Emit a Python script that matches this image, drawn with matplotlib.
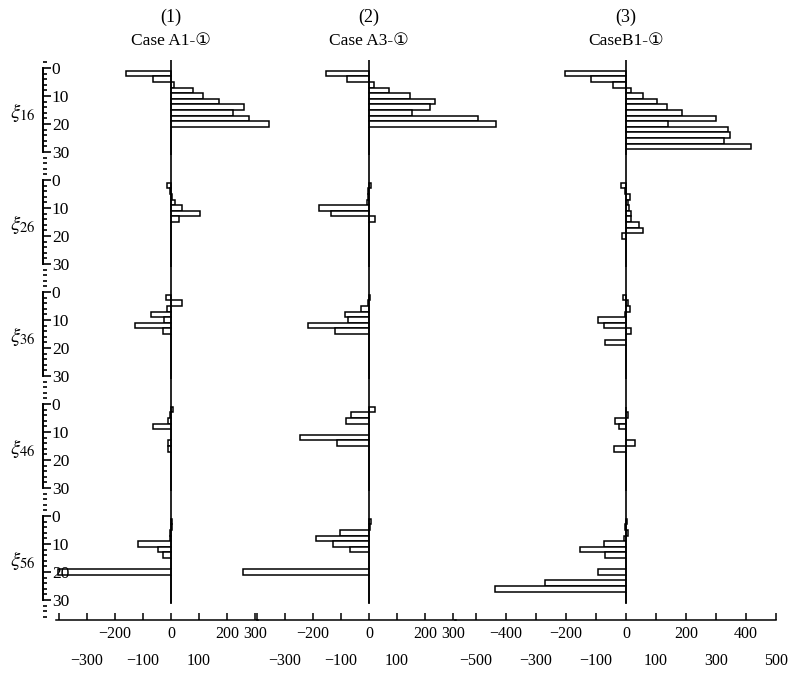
import matplotlib
matplotlib.use('Agg')
import matplotlib.pyplot as plt
from matplotlib.ticker import MultipleLocator
from matplotlib.transforms import blended_transform_factory

plt.rcParams['mathtext.fontset'] = 'stix'
SERIF = ['Liberation Serif', 'DejaVu Sans', 'Noto Sans CJK JP']

# --- data ---
xi_pos = [2, 4, 6, 8, 10, 12, 14, 16, 18, 20, 22, 24, 26, 28, 30]
xi_names = ['16', '26', '36', '46', '56']
panel_nums = ['(1)', '(2)', '(3)']
case_names = ['Case A1-①', 'Case A3-①', 'CaseB1-①']

a1_xi16 = [-160, -64, 10, 80, 115, 170, 260, 220, 280, 350, 0, 0, 0, 0, 0]
a1_xi26 = [-15, -4, 3, 15, 38, 105, 28, 0, 0, 0, 0, 0, 0, 0, 0]
a1_xi36 = [-18, 39, -15, -71, -24, -127, -27, 0, 0, 0, 0, 0, 0, 0, 0]
a1_xi46 = [6, -2, -12, -65, 0, 0, -12, -12, 0, 0, 0, 0, 0, 0, 0]
a1_xi56 = [4, 2, -3, -5, -118, -46, -30, 0, 0, -403, 0, 0, 0, 0, 0]

a3_xi16 = [-153, -77, 18, 71, 147, 236, 218, 154, 390, 455, 0, 0, 0, 0, 0]
a3_xi26 = [8, -3, -4, -6, -180, -137, 20, 0, 0, 0, 0, 0, 0, 0, 0]
a3_xi36 = [4, -5, -30, -87, -75, -217, -121, 0, 0, 0, 0, 0, 0, 0, 0]
a3_xi46 = [20, -63, -81, 0, 0, -246, -113, 0, 0, 0, 0, 0, 0, 0, 0]
a3_xi56 = [8, 3, -104, -190, -130, -68, 0, 0, 0, -450, 0, 0, 0, 0, 0]

b1_xi16 = [-205, -118, -42, 15, 58, 103, 136, 186, 300, 140, 340, 345, 328, 415, 0]
b1_xi26 = [-18, -4, 14, 8, 10, 18, 18, 42, 55, -13, 0, 0, 0, 0, 0]
b1_xi36 = [-9, 5, 13, -5, -92, -72, 15, 0, -70, 0, 0, 0, 0, 0, 0]
b1_xi46 = [0, 5, -37, -23, 0, 0, 30, -40, 0, 0, 0, 0, 0, 0, 0]
b1_xi56 = [3, -5, 5, -8, -75, -152, -70, 0, 0, -95, 0, -270, -437, 0, 0]

columns = [
    [a1_xi16, a1_xi26, a1_xi36, a1_xi46, a1_xi56],
    [a3_xi16, a3_xi26, a3_xi36, a3_xi46, a3_xi56],
    [b1_xi16, b1_xi26, b1_xi36, b1_xi46, b1_xi56],
]

top_labels = [[-200, 0, 200, 300], [-200, 0, 200, 300], [-400, -200, 0, 200, 400]]
low_labels = [[-300, -100, 100], [-300, -100, 100], [-500, -300, -100, 100, 300, 500]]

# --- layout (pixels) ---
W, H = 788, 676
col_zero = [171, 369, 626]
col_scale = [0.28, 0.28, 0.30]
col_xlim = [(-410, 310), (-400, 310), (-570, 500)]
row_zero = [68, 180, 292, 404, 516]
PPU = 2.8  # pixels per xi unit


def rect(left, top, w, h):
    return [left / W, 1 - (top + h) / H, w / W, h / H]


def fmt(v):
    return str(v).replace('-', '\u2212')


fig = plt.figure(figsize=(W / 100, H / 100), dpi=100)

for c in range(3):
    x0, x1 = col_xlim[c]
    left = col_zero[c] + x0 * col_scale[c]
    width = (x1 - x0) * col_scale[c]

    fig.text(col_zero[c] / W, 1 - 17 / H, panel_nums[c], ha='center', va='center',
             fontsize=13, family=SERIF)
    fig.text(col_zero[c] / W, 1 - 41 / H, case_names[c], ha='center', va='center',
             fontsize=12.5, family=SERIF)

    for r in range(5):
        top = row_zero[r] - 3 * PPU
        ax = fig.add_axes(rect(left, top, width, 40 * PPU))
        ax.barh(xi_pos, columns[c][r], height=2, color='white',
                edgecolor='black', linewidth=1.1, clip_on=False)
        end = 31.5 if r == 4 else 37
        ax.vlines(0, -3, end, color='black', linewidth=1.2)
        ax.set_xlim(x0, x1)
        ax.set_ylim(37, -3)
        ax.axis('off')

    # bottom scale
    bx = fig.add_axes(rect(left, 619.5, width, 0.5))
    for s in ['top', 'left', 'right']:
        bx.spines[s].set_visible(False)
    bx.spines['bottom'].set_linewidth(1.1)
    bx.set_xlim(x0, x1)
    bx.set_yticks([])
    ticks = list(range(-500, 501, 100))
    ticks = [t for t in ticks if x0 <= t <= x1]
    bx.set_xticks(ticks)
    bx.set_xticklabels([fmt(t) if t in top_labels[c] else '' for t in ticks],
                       family=SERIF, fontsize=11.5)
    bx.tick_params(axis='x', direction='in', length=5, width=1.1, pad=4)
    trans = blended_transform_factory(bx.transData, fig.transFigure)
    for v in low_labels[c]:
        bx.text(v, 1 - 661 / H, fmt(v), transform=trans, ha='center', va='center',
                family=SERIF, fontsize=11.5)

# y scales on the left
for r in range(5):
    top = row_zero[r] - 3 * PPU
    yx = fig.add_axes(rect(43, top, 0.5, 40 * PPU))
    yx.set_ylim(37, -3)
    for s in ['top', 'bottom', 'right']:
        yx.spines[s].set_visible(False)
    yx.spines['left'].set_bounds(0, 30)
    yx.spines['left'].set_linewidth(1.4)
    yx.set_xticks([])
    yx.set_yticks([0, 10, 20, 30])
    yx.set_yticklabels(['0', '10', '20', '30'], family=SERIF, fontsize=12.5)
    yx.yaxis.set_minor_locator(MultipleLocator(2))
    yx.tick_params(axis='y', which='both', direction='in', left=True, right=False,
                   labelleft=False, labelright=True, width=1.2)
    yx.tick_params(axis='y', which='major', length=6, pad=6)
    yx.tick_params(axis='y', which='minor', length=3)
    fig.text(23 / W, 1 - (row_zero[r] + 44) / H, r'$\xi_{\mathrm{' + xi_names[r] + '}}$',
             ha='center', va='center', fontsize=15)

fig.savefig('out.png', dpi=100)
